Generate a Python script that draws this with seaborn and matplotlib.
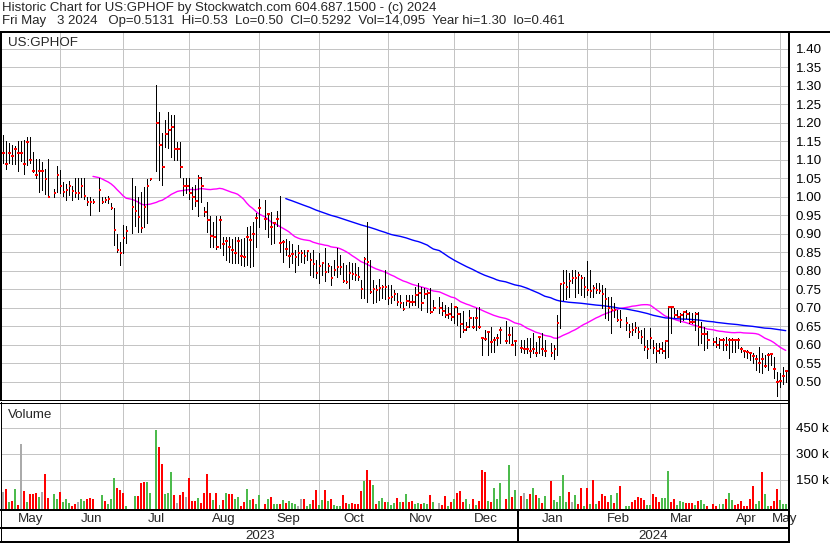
import numpy as np
import pandas as pd
import matplotlib
matplotlib.use("Agg")
import matplotlib.pyplot as plt
from matplotlib.lines import Line2D
import seaborn as sns

sns.set_style("white")
plt.rcParams["font.family"] = ["Liberation Sans", "DejaVu Sans"]

# one slot per weekday, holidays are empty
dates = pd.bdate_range("2023-05-05", "2024-05-03")
holidays = ["2023-05-29", "2023-06-19", "2023-07-04", "2023-09-04", "2023-11-23",
            "2023-12-25", "2024-01-01", "2024-01-15", "2024-02-19", "2024-03-29"]

N = None
high = [
    1.168, 1.150, 1.144, 1.141, 1.137, 1.150, 1.150, 1.152, 1.161, 1.161,   # 0
    1.120, 1.101, 1.101, 1.093, 1.075, 1.101, N, 1.021, 1.084, 1.072,       # 10
    1.041, 1.035, 1.042, 1.030, 1.050, 1.050, 1.050, 1.050, 1.000, 1.000,   # 20
    0.995, N, 1.050, 1.000, 1.000, 1.002, 0.982, 0.970, 0.899, 0.878,       # 30
    0.923, 0.922, N, 1.050, 1.029, 1.000, 1.013, 1.025, 1.047, 1.050,       # 40
    N, 1.302, 1.230, 1.171, 1.207, 1.230, 1.221, 1.221, 1.149, 1.149,       # 50
    1.050, 1.050, 1.050, 1.027, 1.032, 1.059, 1.054, 0.973, 0.986, 0.948,   # 60
    0.932, 0.948, 0.948, 0.890, 0.892, 0.890, 0.885, 0.892, 0.892, 0.885,   # 70
    0.889, 0.919, 0.922, 0.932, 0.957, 0.995, N, 0.991, 0.955, 0.959,       # 80
    0.932, 0.960, 1.002, 0.883, 0.885, 0.881, 0.872, 0.856, 0.869, 0.856,   # 90
    0.856, 0.856, 0.847, 0.856, 0.829, 0.847, 0.824, 0.862, 0.820, 0.814,   # 100
    0.829, 0.862, 0.842, 0.822, 0.815, 0.824, 0.822, 0.820, 0.811, 0.775,   # 110
    0.836, 0.931, 0.829, 0.775, 0.761, 0.778, 0.760, 0.802, 0.760, 0.760,   # 120
    0.748, 0.739, 0.734, 0.716, 0.734, 0.734, 0.734, 0.757, 0.768, 0.757,   # 130
    0.752, 0.748, 0.752, 0.721, N, 0.730, 0.716, 0.707, 0.703, 0.712,       # 140
    0.704, 0.703, 0.685, 0.691, 0.662, 0.695, 0.676, 0.698, 0.701, 0.622,   # 150
    0.640, 0.638, 0.647, 0.622, 0.629, 0.647, N, 0.664, 0.649, 0.647,       # 160
    0.614, N, 0.613, 0.613, 0.617, 0.617, 0.631, 0.608, 0.623, 0.631,       # 170
    0.613, N, 0.604, 0.599, 0.680, 0.766, 0.802, 0.802, 0.795, 0.802,       # 180
    0.802, 0.797, 0.788, 0.784, 0.827, 0.802, 0.761, 0.766, 0.766, 0.761,   # 190
    0.752, 0.730, 0.730, 0.712, 0.694, 0.694, N, 0.676, 0.655, 0.658,       # 200
    0.660, 0.649, 0.640, 0.644, 0.613, 0.644, 0.613, 0.604, 0.604, 0.608,   # 210
    0.613, 0.703, 0.705, 0.698, 0.694, 0.685, 0.692, 0.694, 0.689, 0.685,   # 220
    0.689, 0.689, 0.662, 0.649, 0.637, N, 0.617, 0.622, 0.617, 0.617,       # 230
    0.622, 0.617, 0.617, 0.613, 0.617, 0.595, 0.586, 0.586, 0.581, 0.577,   # 240
    0.572, 0.595, 0.577, 0.572, 0.577, 0.577, 0.568, 0.527, 0.523, 0.540,   # 250
    0.530,                                                                  # 260
]
low = [
    1.090, 1.074, 1.090, 1.089, 1.087, 1.070, 1.096, 1.060, 1.086, 1.092,
    1.068, 1.050, 1.012, 1.018, 1.006, 1.000, N, 1.000, 1.012, 1.011,
    1.003, 0.990, 1.004, 0.990, 0.999, 0.995, 1.000, 0.995, 0.977, 0.950,
    0.984, N, 0.961, 0.982, 0.986, 0.982, 0.968, 0.869, 0.850, 0.815,
    0.847, 0.876, N, 0.901, 0.922, 0.905, 0.905, 0.919, 0.928, 1.045,
    N, 1.070, 1.045, 1.032, 1.135, 1.131, 1.108, 1.099, 1.099, 1.054,
    1.004, 1.009, 0.995, 0.968, 0.975, 0.948, 0.986, 0.948, 0.905, 0.865,
    0.865, 0.858, 0.860, 0.842, 0.829, 0.824, 0.822, 0.820, 0.822, 0.815,
    0.813, 0.815, 0.811, 0.813, 0.865, 0.919, N, 0.914, 0.892, 0.872,
    0.874, 0.920, 0.851, 0.824, 0.842, 0.809, 0.820, 0.797, 0.815, 0.824,
    0.820, 0.829, 0.788, 0.784, 0.779, 0.766, 0.788, 0.773, 0.797, 0.761,
    0.788, 0.782, 0.791, 0.770, 0.766, 0.752, 0.778, 0.775, 0.775, 0.725,
    0.725, 0.716, 0.740, 0.712, 0.716, 0.721, 0.725, 0.723, 0.710, 0.712,
    0.721, 0.707, 0.703, 0.694, 0.707, 0.703, 0.707, 0.707, 0.703, 0.694,
    0.725, 0.689, 0.686, 0.694, N, 0.685, 0.680, 0.676, 0.671, 0.667,
    0.658, 0.653, 0.622, 0.635, 0.641, 0.649, 0.644, 0.640, 0.644, 0.572,
    0.613, 0.572, 0.581, 0.581, 0.599, 0.604, N, 0.604, 0.604, 0.599,
    0.572, N, 0.581, 0.577, 0.577, 0.568, 0.577, 0.569, 0.577, 0.572,
    0.569, N, 0.569, 0.560, 0.572, 0.644, 0.721, 0.723, 0.730, 0.766,
    0.730, 0.739, 0.734, 0.730, 0.734, 0.730, 0.730, 0.739, 0.739, 0.698,
    0.671, 0.667, 0.631, 0.676, 0.665, 0.649, N, 0.640, 0.622, 0.626,
    0.635, 0.618, 0.604, 0.586, 0.563, 0.590, 0.577, 0.554, 0.577, 0.577,
    0.563, 0.568, 0.631, 0.676, 0.676, 0.662, 0.667, 0.671, 0.658, 0.658,
    0.640, 0.599, 0.604, 0.586, 0.590, N, 0.599, 0.595, 0.590, 0.586,
    0.586, 0.563, 0.581, 0.581, 0.590, 0.581, 0.568, 0.563, 0.559, 0.550,
    0.532, 0.527, 0.523, 0.541, 0.532, 0.545, 0.509, 0.461, 0.486, 0.495,
    0.500,
]
close = [
    1.119, 1.088, 1.119, 1.111, 1.129, 1.119, 1.119, 1.088, 1.149, 1.099,
    1.069, 1.059, 1.069, 1.069, 1.049, 1.000, N, 1.011, 1.059, 1.030,
    1.013, 1.019, 1.030, 1.016, 1.011, 1.011, 1.030, 1.003, 0.985, 0.985,
    0.986, N, 1.019, 0.986, 0.990, 0.995, 0.970, 0.911, 0.857, 0.848,
    0.889, 0.908, N, 0.973, 0.962, 0.944, 0.916, 0.973, 1.029, 1.048,
    N, 1.200, 1.140, 1.081, 1.169, 1.180, 1.189, 1.130, 1.130, 1.081,
    1.029, 1.029, 1.011, 1.000, 0.989, 1.051, 1.029, 0.959, 0.937, 0.895,
    0.892, 0.865, 0.937, 0.871, 0.880, 0.865, 0.856, 0.847, 0.880, 0.840,
    0.838, 0.892, 0.883, 0.899, 0.943, 0.970, N, 0.941, 0.952, 0.919,
    0.930, 0.940, 0.874, 0.877, 0.859, 0.840, 0.845, 0.836, 0.849, 0.849,
    0.840, 0.854, 0.829, 0.818, 0.795, 0.813, 0.820, 0.796, 0.813, 0.780,
    0.802, 0.811, 0.811, 0.773, 0.770, 0.795, 0.791, 0.788, 0.782, 0.751,
    0.832, 0.823, 0.742, 0.750, 0.748, 0.752, 0.757, 0.755, 0.725, 0.730,
    0.738, 0.715, 0.712, 0.696, 0.718, 0.715, 0.716, 0.733, 0.741, 0.714,
    0.737, 0.739, 0.689, 0.700, N, 0.699, 0.690, 0.680, 0.683, 0.675,
    0.703, 0.682, 0.656, 0.641, 0.649, 0.671, 0.647, 0.673, 0.649, 0.617,
    0.616, 0.635, 0.608, 0.613, 0.619, 0.641, N, 0.611, 0.626, 0.599,
    0.610, N, 0.590, 0.589, 0.589, 0.583, 0.589, 0.578, 0.622, 0.589,
    0.583, N, 0.578, 0.587, 0.659, 0.763, 0.768, 0.757, 0.773, 0.781,
    0.781, 0.788, 0.781, 0.757, 0.748, 0.744, 0.753, 0.748, 0.746, 0.737,
    0.723, 0.698, 0.694, 0.694, 0.668, 0.668, N, 0.658, 0.635, 0.640,
    0.644, 0.635, 0.622, 0.595, 0.587, 0.619, 0.590, 0.583, 0.589, 0.583,
    0.611, 0.703, 0.701, 0.681, 0.676, 0.681, 0.688, 0.683, 0.661, 0.661,
    0.683, 0.649, 0.629, 0.629, 0.614, N, 0.608, 0.600, 0.613, 0.614,
    0.600, 0.614, 0.613, 0.613, 0.613, 0.589, 0.583, 0.581, 0.578, 0.569,
    0.560, 0.550, 0.562, 0.542, 0.571, 0.575, 0.535, 0.500, 0.503, 0.515,
    0.529,
]
# volume in thousands, colour: g up, r down, n unchanged
volume = [
    81, 97, 23, 27, 97, 4, 358, 85, 23, 68,
    68, 74, 50, 79, 184, 46, N, 70, 41, 79,
    23, 39, 17, 2, 12, 23, 41, 27, 39, 46,
    39, N, 120, 62, 27, 12, 39, 163, 104, 91,
    74, 1, N, 104, 56, 56, 134, 137, 137, 74,
    N, 439, 341, 242, 68, 74, 195, 62, 15, 62,
    79, 50, 163, 27, 31, 45, 15, 74, 184, 74,
    33, 74, 4, 33, 74, 68, 68, 39, 50, 2,
    21, 97, 33, 39, 10, 62, N, 10, 39, 50,
    10, 10, 10, 33, 15, 27, 15, 10, 1, 39,
    39, 2, 10, 33, 91, 4, 33, 91, 27, 39,
    4, 2, 2, 62, 15, 10, 15, 10, 10, 85,
    143, 207, 149, 120, 10, 27, 45, 21, 21, 4,
    15, 45, 21, 21, 68, 21, 27, 10, 19, 10,
    19, 10, 62, 21, N, 15, 4, 56, 2, 21,
    39, 74, 85, 21, 39, 10, 39, 4, 27, 207,
    195, 27, 21, 103, 39, 132, N, 39, 236, 50,
    91, N, 56, 74, 39, 68, 103, 62, 45, 15,
    56, N, 143, 33, 21, 56, 178, 21, 79, 21,
    62, 10, 103, 2, 103, 10, 149, 10, 27, 68,
    56, 21, 62, 15, 74, 114, N, 2, 2, 21,
    33, 50, 45, 33, 4, 4, 68, 50, 21, 45,
    45, 201, 21, 39, 4, 27, 21, 15, 15, 15,
    4, 27, 33, 10, 2, N, 10, 2, 10, 10,
    39, 74, 33, 4, 10, 27, 2, 2, 39, 114,
    10, 27, 195, 68, 1, 2, 27, 97, 33, 10,
    14,
]
vol_dir = list(
    "nrgrgrnrgr" "rrgnrr-ggr" "gggrrnggrr" "rg-grgggrr" "rgg-grrrgg"
    "-grrgggrnr" "rnrrrgrrrr" "grgrgrrggr" "rggrgg-rgr" "ggrgrgggnn"
    "rggrrggrgr" "gggrrgrrrr" "grrgrggrgg" "grgrgrrggr" "ggrg-nrrgr"
    "grrrggrgrr" "rgrggg-rgr" "g-rngrgrgr" "g-rgggggrn" "grrgrgrgrr"
    "rrgrgr-ggr" "rrrrggrrrg" "ggrrgggrrr" "grggr-rrgg" "rggrrrrrrr"
    "ggrggrrrgg" "g"
)

idx = np.arange(len(dates))
hi = np.array(high, dtype=float)
lo = np.array(low, dtype=float)
cl = np.array(close, dtype=float)
vol = np.array([np.nan if v is None else v * 1000 for v in volume])

# moving averages over traded days
s = pd.Series(cl, index=idx).dropna()
ma30 = s.rolling(30).mean().dropna()
ma90 = s.rolling(90).mean().dropna()

# month gridlines: last weekday on or before the 1st
month_starts = pd.date_range("2023-06-01", "2024-05-01", freq="MS")
month_pos = [int(np.searchsorted(dates.values, np.datetime64(m), side="right")) - 1 for m in month_starts]
month_names = ["May", "Jun", "Jul", "Aug", "Sep", "Oct", "Nov", "Dec",
               "Jan", "Feb", "Mar", "Apr", "May"]

W, H = 830, 543
fig = plt.figure(figsize=(W / 100, H / 100), dpi=100)
fig.patch.set_facecolor("white")
FS = 9.6
PX = 0.72  # one pixel in points


def box(x0, y0, x1, y1):
    return [x0 / W, 1 - y1 / H, (x1 - x0) / W, (y1 - y0) / H]


def pline(xs, ys, lw):
    fig.add_artist(Line2D([x / W for x in xs], [1 - y / H for y in ys],
                          transform=fig.transFigure, color="black", lw=lw,
                          solid_capstyle="butt", antialiased=False))


x0 = (2 - 2.64) / 3.012
x1 = (789 - 2.64) / 3.012
grid_c = "#c4c4c4"

ax = fig.add_axes(box(2, 33, 789, 400))
axv = fig.add_axes(box(2, 403, 789, 510))

for a in (ax, axv):
    a.set_xlim(x0, x1)
    for sp in a.spines.values():
        sp.set_visible(False)
    a.set_xticks([])
    for m in month_pos:
        a.axvline(m, color=grid_c, lw=PX, zorder=0, antialiased=False)

# price panel
price_ticks = np.round(np.arange(0.50, 1.401, 0.05), 2)
ax.set_ylim(0.4505, 1.4424)
for p in price_ticks:
    ax.axhline(p, color=grid_c, lw=PX, zorder=0, antialiased=False)
ax.yaxis.tick_right()
ax.set_yticks(price_ticks)
ax.set_yticklabels([f"{p:.2f}" for p in price_ticks])
ax.tick_params(axis="y", length=0, pad=5, labelsize=FS, colors="black")

ok = ~np.isnan(hi)
ax.vlines(idx[ok], lo[ok], hi[ok], colors="black", lw=PX, zorder=3, antialiased=False)
ax.hlines(cl[ok], idx[ok] - 0.1, idx[ok] + 0.75, colors="#ff0000", lw=2 * PX, zorder=4,
          antialiased=False)
sns.lineplot(x=ma30.index, y=ma30.values, ax=ax, color="#ff00ff", lw=1.0, zorder=2)
sns.lineplot(x=ma90.index, y=ma90.values, ax=ax, color="#0000ff", lw=1.0, zorder=2)
ax.set_xlabel("")
ax.set_ylabel("")
ax.text(0.008, 0.99, "US:GPHOF", transform=ax.transAxes, ha="left", va="top", fontsize=FS)

# volume panel
vbot, vtop = -23000, 594000
axv.set_ylim(vbot, vtop)
vticks = [150000, 300000, 450000]
for v in vticks:
    axv.axhline(v, color=grid_c, lw=PX, zorder=0, antialiased=False)
axv.yaxis.tick_right()
axv.set_yticks(vticks)
axv.set_yticklabels(["150 k", "300 k", "450 k"])
axv.tick_params(axis="y", length=0, pad=5, labelsize=FS, colors="black")
cmap = {"g": "#4cbb4c", "r": "#ff0000", "n": "#aaaaaa"}
vok = np.array([d in cmap for d in vol_dir])
axv.bar(idx[vok], vol[vok] - vbot, bottom=vbot, width=0.66, linewidth=0,
        color=[cmap[d] for d in np.array(vol_dir)[vok]], zorder=3, antialiased=False)
axv.text(0.008, 0.94, "Volume", transform=axv.transAxes, ha="left", va="top", fontsize=FS)

# month and year labels
edges = [x0] + month_pos + [x1]
for name, a, b in zip(month_names, edges[:-1], edges[1:]):
    axv.text((a + b) / 2, vbot - (vtop - vbot) * 0.085, name, ha="center", va="center",
             fontsize=FS, clip_on=False)
jan = month_pos[7]
for name, a, b in [("2023", x0, jan), ("2024", jan, x1)]:
    axv.text((a + b) / 2, vbot - (vtop - vbot) * 0.245, name, ha="center", va="center",
             fontsize=FS, clip_on=False)

# title
TS = 9.5
fig.text(2 / W, 1 - 8 / H, "Historic Chart for US:GPHOF by Stockwatch.com 604.687.1500 - (c) 2024",
         ha="left", va="center", fontsize=TS)
fig.text(2 / W, 1 - 21 / H,
         "Fri May   3 2024   Op=0.5131  Hi=0.53  Lo=0.50  Cl=0.5292  Vol=14,095  Year hi=1.30  lo=0.461",
         ha="left", va="center", fontsize=TS)

# frame lines
jan_px = 2.64 + 3.012 * jan
pline([0, 830], [31.5, 31.5], 2 * PX)
pline([789, 789], [31, 543], 2 * PX)
pline([1, 1], [31, 400], 2 * PX)
pline([0, 789], [399.5, 399.5], PX)
pline([0, 789], [402.5, 402.5], PX)
pline([0.5, 0.5], [402, 543], PX)
pline([0, 789], [510, 510], 2 * PX)
pline([0, 789], [527.5, 527.5], 2 * PX)
pline([0, 789], [541.5, 541.5], 2 * PX)
pline([jan_px, jan_px], [510, 542], 2 * PX)

fig.savefig("out.png", dpi=100, facecolor="white")
